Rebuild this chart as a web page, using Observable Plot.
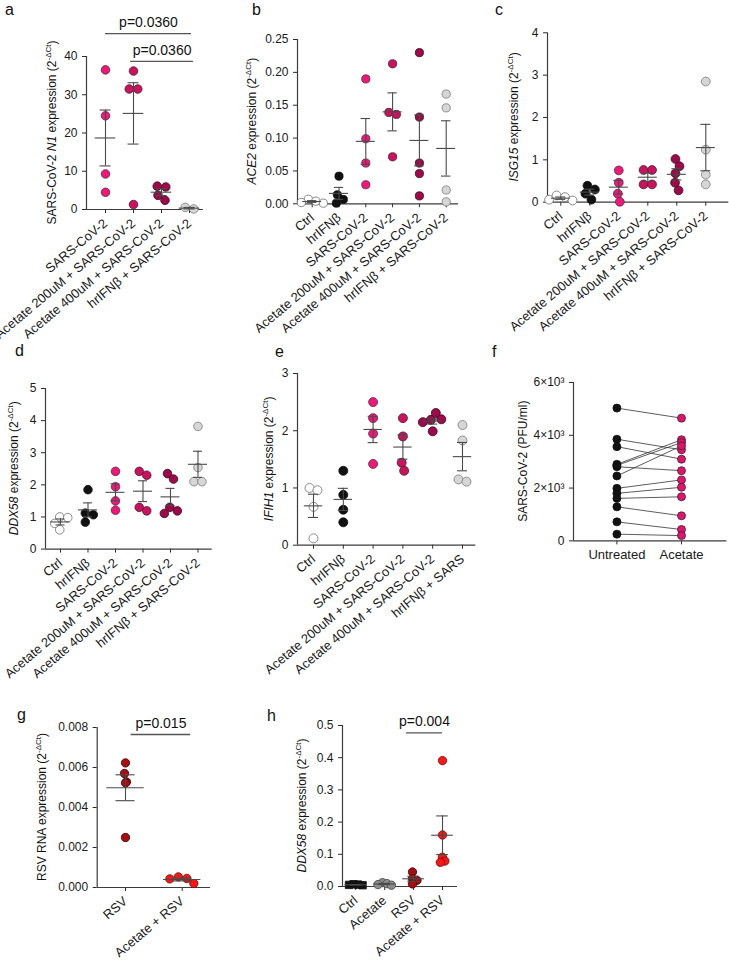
<!DOCTYPE html>
<html><head><meta charset="utf-8">
<script src="https://cdn.jsdelivr.net/npm/d3@7"></script>
<script src="https://cdn.jsdelivr.net/npm/@observablehq/plot@0.6"></script>
<style>
body{margin:0;background:#fff;font-family:"Liberation Sans",Arial,sans-serif;}
#fig{position:relative;width:729px;height:962px;overflow:hidden;background:#fff}
.letter{position:absolute;font-size:16px;line-height:16px;color:#111;font-family:"Liberation Sans",Arial,sans-serif}
</style></head><body><div id="fig"></div>
<script>
// ---------------- DATA ----------------
// a: SARS-CoV-2 N1 expression
const catsA = ["SARS-CoV-2", "Acetate 200uM + SARS-CoV-2", "Acetate 400uM + SARS-CoV-2", "hrIFNβ + SARS-CoV-2"];
const n1Sars = [36.5, 24.5, 9.3, 4.5];
const n1Ac200 = [36.2, 31.5, 31.5, 1.3];
const n1Ac400 = [6.1, 5.9, 3.7, 2.4];
const n1Ifn = [0.55, 0.15];
const pLabelsA = ["p=0.0360", "p=0.0360"];
// b-e: six-group panels
const catsSix = ["Ctrl", "hrIFNβ", "SARS-CoV-2", "Acetate 200uM + SARS-CoV-2", "Acetate 400uM + SARS-CoV-2", "hrIFNβ + SARS-CoV-2"];
const catsE = ["Ctrl", "hrIFNβ", "SARS-CoV-2", "Acetate 200uM + SARS-CoV-2", "Acetate 400uM + SARS-CoV-2", "hrIFNβ + SARS"];
const ace2 = [[0.007, 0.004, 0.002, 0.001], [0.042, 0.0137, 0.0066, 0.001], [0.190, 0.099, 0.062, 0.029], [0.213, 0.139, 0.136, 0.0715], [0.230, 0.132, 0.062, 0.046, 0.012], [0.167, 0.146, 0.021, 0.003]];
const isg15 = [[0.16, 0.12, 0.06, 0.04], [0.39, 0.30, 0.20, 0.06], [0.75, 0.46, 0.20, 0.01], [0.76, 0.76, 0.42, 0.42], [1.02, 0.85, 0.68, 0.46, 0.28], [2.85, 1.24, 0.65, 0.42]];
const ddx58 = [[1.0, 0.98, 0.8, 0.6], [1.85, 1.12, 1.07, 0.84], [2.42, 1.94, 1.5, 1.21], [2.42, 2.3, 1.3, 1.19], [2.35, 2.18, 1.3, 1.19, 1.11], [3.82, 2.54, 2.1, 2.1]];
const ifih1 = [[1.0, 0.96, 0.67, 0.12], [1.3, 0.88, 0.62, 0.4], [2.5, 2.22, 1.95, 1.42], [2.22, 1.9, 1.44, 1.3], [2.31, 2.2, 2.19, 2.15, 1.99], [2.1, 1.83, 1.15, 1.11]];
// f: paired PFU
const catsF = ["Untreated", "Acetate"];
const pfuUntreated = [5030, 3850, 3570, 2900, 2860, 2810, 2460, 1990, 1800, 1610, 1290, 720, 255];
const pfuAcetate   = [4650, 3450, 3095, 3830, 3725, 2660, 3600, 2310, 2030, 1670, 950, 430, 200];
// g: RSV RNA
const catsG = ["RSV", "Acetate + RSV"];
const rsvRsv = [0.00623, 0.0057, 0.00528, 0.00523, 0.0025];
const rsvAcRsv = [0.00053, 0.00045, 0.00043, 0.0002];
const pLabelG = "p=0.015";
// h: DDX58 RSV
const catsH = ["Ctrl", "Acetate", "RSV", "Acetate + RSV"];
const hCtrl = [0.007, 0.006, 0.005, 0.004];
const hAc = [0.012, 0.009, 0.006, 0.004];
const hRsv = [0.045, 0.024, 0.019, 0.008];
const hAcRsv = [0.391, 0.16, 0.091, 0.079, 0.075];
const pLabelH = "p=0.004";

// ---------------- STYLE ----------------
const FONT = '"Liberation Sans", Arial, Helvetica, sans-serif';
const AX = "#3c3c3c", BAR = "#4a4a4a";
const C = {white: "#ffffff", black: "#111111", sars: "#ea1a7b", ac200: "#c8135f", ac400: "#9b0b4b", gray: "#d6d6d6", dgray: "#8c8c8c", rsv: "#a30f12", red: "#f31818", pinkF: "#d8186f"};
const sixFills = [C.white, C.black, C.sars, C.ac200, C.ac400, C.gray];
const sixStrokes = ["#6e6e6e", "#111", "#5a2a3a", "#4a1a2a", "#3a0a1a", "#7a7a7a"];
const fig = document.getElementById("fig");

function dodgeOffsets(vals, toPx, r, minDist) {
  const order = vals.map((v, i) => i).sort((a, b) => vals[b] - vals[a]);
  const placed = [];
  const cand = [0]; for (let k = 0.5; k <= 40; k += 0.5) cand.push(k, -k);
  for (const i of order) {
    const y = toPx(vals[i]);
    let chosen = 0;
    for (const c of cand) { if (placed.every(p => Math.hypot(p.x - c, p.y - y) >= minDist)) { chosen = c; break; } }
    placed.push({i, x: chosen, y});
  }
  const n = placed.length, parent = d3.range(n);
  const find = k => parent[k] === k ? k : (parent[k] = find(parent[k]));
  for (let a = 0; a < n; a++) for (let b = a + 1; b < n; b++)
    if (Math.hypot(placed[a].x - placed[b].x, placed[a].y - placed[b].y) < 2 * r * 1.05) parent[find(a)] = find(b);
  const off = new Array(vals.length).fill(0);
  for (const ks of d3.group(d3.range(n), k => find(k)).values()) {
    const m = d3.mean(ks, k => placed[k].x);
    for (const k of ks) off[placed[k].i] = placed[k].x - m;
  }
  return off;
}

function addYTitle(svg, x, y, parts) {
  const t = d3.select(svg).append("text")
    .attr("transform", `translate(${x},${y}) rotate(-90)`)
    .attr("text-anchor", "middle").attr("dy", "0.35em")
    .style("font-size", "12px").attr("fill", "#111").style("font-family", FONT);
  let shifted = false;
  parts.forEach(p => {
    const ts = t.append("tspan").text(p.t);
    if (p.i) ts.attr("font-style", "italic");
    if (p.sup) { ts.style("font-size", "8px").attr("dy", -5); shifted = true; }
    else if (shifted) { ts.attr("dy", 5); shifted = false; }
  });
}
const expr = [{t: " expression (2"}, {t: "-ΔCt", sup: 1}, {t: ")"}];

function letter(ch, x, baseline) {
  const d = document.createElement("div");
  d.className = "letter"; d.textContent = ch;
  d.style.left = x + "px"; d.style.top = (baseline - 13.5) + "px";
  fig.appendChild(d);
}

function placeSvg(svg, left, top, xSize) {
  svg.style.position = "absolute"; svg.style.left = left + "px"; svg.style.top = top + "px";
  const s = d3.select(svg);
  s.selectAll('g[aria-label^="x-axis"] text').style("font-size", (xSize || 13) + "px").style("font-family", FONT).attr("fill", "#1a1a1a");
  s.selectAll('g[aria-label^="y-axis"] text').style("font-size", "12px").style("font-family", FONT).attr("fill", "#1a1a1a");
  fig.appendChild(svg);
}

function baseStyle() { return {background: "transparent", overflow: "visible", fontSize: "12px", fontFamily: FONT, color: "#2a2a2a"}; }

function dotPanel(cfg, L) {
  const n = cfg.cats.length;
  const sp = (L.cl - L.c0) / (n - 1);
  const xDom = [-(L.c0 - L.x0) / sp, (n - 1) + (L.xe - L.cl) / sp];
  const [y0, y1] = cfg.yDomain;
  const toPx = v => L.yBot - (v - y0) / (y1 - y0) * (L.yBot - L.yTop);
  const stats = [];
  const marks = [
    Plot.ruleY([y0], {stroke: AX, strokeWidth: 1.2}),
    Plot.ruleX([xDom[0]], {y1: y0, y2: y1, stroke: AX, strokeWidth: 1.2})
  ];
  cfg.groups.forEach((vals, gi) => {
    const offs = dodgeOffsets(vals, toPx, L.r, L.minDist);
    const pts = vals.map((v, k) => ({x: gi + offs[k] / sp, v}));
    marks.push(Plot.dot(pts, {x: "x", y: "v", r: L.r, fill: cfg.fills[gi], stroke: cfg.strokes[gi], strokeWidth: 0.8, symbol: cfg.symbols ? cfg.symbols[gi] : "circle"}));
    const m = d3.mean(vals), se = vals.length > 1 ? d3.deviation(vals) / Math.sqrt(vals.length) : 0;
    stats.push({i: gi, mean: m, lo: m - se, hi: m + se});
  });
  const cw = L.cap / sp, mw = L.mw / sp;
  const lineOpt = {stroke: BAR, strokeWidth: 1.1};
  marks.push(Plot.ruleX(stats, {x: "i", y1: "lo", y2: "hi", ...lineOpt}));
  marks.push(Plot.ruleY(stats, {y: "hi", x1: d => d.i - cw, x2: d => d.i + cw, ...lineOpt}));
  marks.push(Plot.ruleY(stats, {y: "lo", x1: d => d.i - cw, x2: d => d.i + cw, ...lineOpt}));
  marks.push(Plot.ruleY(stats, {y: "mean", x1: d => d.i - mw, x2: d => d.i + mw, ...lineOpt}));
  if (cfg.brackets) {
    marks.push(Plot.ruleY(cfg.brackets, {y: "y", x1: "x1", x2: "x2", stroke: "#555", strokeWidth: 1.3}));
    marks.push(Plot.text(cfg.brackets, {x: d => (d.x1 + d.x2) / 2, y: "y", text: "label", dy: -11, fontSize: 14, fill: "#111"}));
  }
  const width = L.ml + (L.xe - L.x0) + L.mr, height = L.mt + (L.yBot - L.yTop) + L.mb;
  const svg = Plot.plot({
    width, height, marginLeft: L.ml, marginRight: L.mr, marginTop: L.mt, marginBottom: L.mb,
    style: baseStyle(),
    x: {domain: xDom, ticks: d3.range(n), tickFormat: i => cfg.cats[i], tickRotate: -40, tickSize: 4, label: null},
    y: {domain: cfg.yDomain, ticks: cfg.yTicks, tickFormat: cfg.yFmt, tickSize: 4, label: null},
    marks
  });
  placeSvg(svg, L.x0 - L.ml, L.yTop - L.mt, 13);
  addYTitle(svg, L.titleX - (L.x0 - L.ml), (L.yTop + L.yBot) / 2 - (L.yTop - L.mt), cfg.title);
}

// ---------------- PANELS ----------------
const f2 = d3.format(".2f"), f3 = d3.format(".3f"), f1 = d3.format(".1f");

dotPanel({
  cats: catsA, groups: [n1Sars, n1Ac200, n1Ac400, n1Ifn],
  fills: [C.sars, C.ac200, C.ac400, C.gray], strokes: ["#5a2a3a", "#4a1a2a", "#3a0a1a", "#7a7a7a"],
  yDomain: [0, 40], yTicks: [0, 10, 20, 30, 40], yFmt: d3.format("d"),
  brackets: [{x1: 0, x2: 3.07, y: 46.0, label: pLabelsA[0]}, {x1: 0.9, x2: 3.14, y: 38.7, label: pLabelsA[1]}],
  title: [{t: "SARS-CoV-2 "}, {t: "N1", i: 1}, ...expr]
}, {x0: 86, xe: 203, c0: 105, cl: 189, yTop: 56, yBot: 209, ml: 86, mr: 20, mt: 56, mb: 150, r: 4.3, minDist: 8.4, cap: 5.5, mw: 10.3, titleX: 52});

dotPanel({
  cats: catsSix, groups: ace2, fills: sixFills, strokes: sixStrokes,
  yDomain: [0, 0.25], yTicks: [0, 0.05, 0.10, 0.15, 0.20, 0.25], yFmt: f2,
  title: [{t: "ACE2", i: 1}, ...expr]
}, {x0: 297, xe: 458, c0: 311.7, cl: 445.7, yTop: 39, yBot: 203.3, ml: 70, mr: 15, mt: 39, mb: 160, r: 4.1, minDist: 7.6, cap: 4.7, mw: 9.5, titleX: 251.7});

dotPanel({
  cats: catsSix, groups: isg15, fills: sixFills, strokes: sixStrokes,
  yDomain: [0, 4], yTicks: [0, 1, 2, 3, 4], yFmt: d3.format("d"),
  title: [{t: "ISG15", i: 1}, ...expr]
}, {x0: 546.7, xe: 728, c0: 560, cl: 705, yTop: 32.3, yBot: 201.7, ml: 60, mr: 1, mt: 32.3, mb: 160, r: 4.4, minDist: 8.2, cap: 5, mw: 9.5, titleX: 513.3});

dotPanel({
  cats: catsSix, groups: ddx58, fills: sixFills, strokes: sixStrokes,
  yDomain: [0, 5], yTicks: [0, 1, 2, 3, 4, 5], yFmt: d3.format("d"),
  title: [{t: "DDX58", i: 1}, ...expr]
}, {x0: 45, xe: 211.7, c0: 60, cl: 197.5, yTop: 387.7, yBot: 548.3, ml: 45, mr: 15, mt: 40, mb: 160, r: 4.3, minDist: 8, cap: 4.5, mw: 9.5, titleX: 13.3});

dotPanel({
  cats: catsE, groups: ifih1, fills: sixFills, strokes: sixStrokes,
  yDomain: [0, 3], yTicks: [0, 1, 2, 3], yFmt: d3.format("d"),
  title: [{t: "IFIH1", i: 1}, ...expr]
}, {x0: 296.7, xe: 475, c0: 312.7, cl: 461.7, yTop: 373.3, yBot: 545, ml: 70, mr: 10, mt: 40, mb: 160, r: 4.5, minDist: 8.3, cap: 5, mw: 9.2, titleX: 268.3});

dotPanel({
  cats: catsG, groups: [rsvRsv, rsvAcRsv], fills: [C.rsv, C.red], strokes: ["#3a0505", "#7a0a0a"],
  yDomain: [0, 0.008], yTicks: [0, 0.002, 0.004, 0.006, 0.008], yFmt: f3,
  brackets: [{x1: 0.1, x2: 1.15, y: 0.00765, label: pLabelG}],
  title: [{t: "RSV RNA"}, ...expr]
}, {x0: 96.7, xe: 210, c0: 125, cl: 181.7, yTop: 727.3, yBot: 887.3, ml: 96.7, mr: 10, mt: 40, mb: 75, r: 4.2, minDist: 8.6, cap: 9.5, mw: 18.7, titleX: 41.7});

dotPanel({
  cats: catsH, groups: [hCtrl, hAc, hRsv, hAcRsv], fills: [C.black, C.dgray, C.rsv, C.red], strokes: ["#111", "#444", "#3a0505", "#7a0a0a"],
  symbols: ["square", "circle", "circle", "circle"],
  yDomain: [0, 0.5], yTicks: [0, 0.1, 0.2, 0.3, 0.4, 0.5], yFmt: f1,
  brackets: [{x1: 1.75, x2: 3.0, y: 0.477, label: pLabelH}],
  title: [{t: "DDX58", i: 1}, ...expr]
}, {x0: 341.7, xe: 456.7, c0: 355, cl: 441.7, yTop: 725, yBot: 886, ml: 70, mr: 10, mt: 40, mb: 76, r: 4.2, minDist: 4.5, cap: 5.8, mw: 10.8, titleX: 301});

// f: paired plot
(function () {
  const L = {x0: 573.3, xe: 726.7, c0: 616.7, cl: 681.3, yTop: 382.3, yBot: 540.7, ml: 70, mr: 2, mt: 30, mb: 40};
  const sp = L.cl - L.c0;
  const xDom = [-(L.c0 - L.x0) / sp, 1 + (L.xe - L.cl) / sp];
  const pairs = pfuUntreated.map((u, i) => ({u, a: pfuAcetate[i]}));
  const width = L.ml + (L.xe - L.x0) + L.mr, height = L.mt + (L.yBot - L.yTop) + L.mb;
  const svg = Plot.plot({
    width, height, marginLeft: L.ml, marginRight: L.mr, marginTop: L.mt, marginBottom: L.mb,
    style: baseStyle(),
    x: {domain: xDom, ticks: [0, 1], tickFormat: i => catsF[i], tickSize: 4, tickPadding: 5, label: null},
    y: {domain: [0, 6000], ticks: [0, 2000, 4000, 6000], tickFormat: d => d === 0 ? "0" : `${d / 1000}×10³`, tickSize: 4, label: null},
    marks: [
      Plot.ruleY([0], {stroke: AX, strokeWidth: 1.2}),
      Plot.ruleX([xDom[0]], {y1: 0, y2: 6000, stroke: AX, strokeWidth: 1.2}),
      Plot.link(pairs, {x1: () => 0, x2: () => 1, y1: "u", y2: "a", stroke: "#333", strokeWidth: 0.8}),
      Plot.dot(pairs, {x: () => 0, y: "u", r: 4, fill: C.black, stroke: "#111", strokeWidth: 0.8}),
      Plot.dot(pairs, {x: () => 1, y: "a", r: 4, fill: C.pinkF, stroke: "#4a1a2a", strokeWidth: 0.8})
    ]
  });
  placeSvg(svg, L.x0 - L.ml, L.yTop - L.mt, 13);
  addYTitle(svg, 522.7 - (L.x0 - L.ml), (L.yTop + L.yBot) / 2 - (L.yTop - L.mt), [{t: "SARS-CoV-2 (PFU/ml)"}]);
})();

// panel letters
letter("a", 5, 15); letter("b", 252, 15); letter("c", 495, 15);
letter("d", 15, 356); letter("e", 275, 357); letter("f", 492, 357);
letter("g", 17, 720); letter("h", 267, 721);
</script></body></html>
